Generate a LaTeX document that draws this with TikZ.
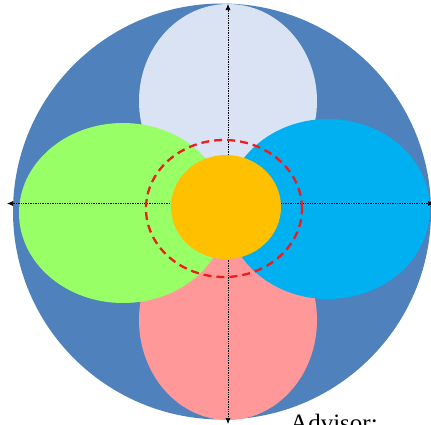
\documentclass[tikz,border=0pt]{standalone}
\usepackage{fontspec}
\setmainfont{Liberation Serif}
\usetikzlibrary{shapes.geometric,arrows.meta}
\definecolor{outerblue}{HTML}{4F81BD}
\definecolor{topblue}{HTML}{DAE3F3}
\definecolor{leafgreen}{HTML}{99FF66}
\definecolor{leafcyan}{HTML}{00B0F0}
\definecolor{leafpink}{HTML}{FF9999}
\definecolor{coreorange}{HTML}{FFC000}
\definecolor{dashred}{HTML}{EE1C1C}
\tikzset{
  blob/.style={ellipse, draw=none, inner sep=0pt},
  axis/.style={densely dotted, line width=0.7pt, black, {Latex[length=6pt,width=5pt]}-{Latex[length=6pt,width=5pt]}},
  ring/.style={ellipse, draw=dashred, dash pattern=on 8pt off 5pt, line width=2.3pt, inner sep=0pt, fill=none}
}
\begin{document}
\begin{tikzpicture}[x=1pt,y=-1pt]
\useasboundingbox (0,0) rectangle (431,424);
\node[blob, fill=outerblue, minimum width=418pt, minimum height=416pt] (outer) at (222,211.5) {};
\node[blob, fill=topblue, minimum width=178pt, minimum height=194pt] (top) at (228,101) {};
\node[blob, fill=leafpink, minimum width=178pt, minimum height=200pt] (bottom) at (228,320) {};
\node[blob, fill=leafgreen, minimum width=208pt, minimum height=180pt] (left) at (123,213) {};
\node[blob, fill=leafcyan, minimum width=204pt, minimum height=180pt] (right) at (328,209) {};
\coordinate (ntop) at (228,4);
\coordinate (nbot) at (228,424);
\coordinate (wl) at (7,203.5);
\coordinate (wr) at (434,203.5);
\draw[axis] (ntop) -- (nbot);
\draw[axis] (wl) -- (wr);
\node[blob, fill=coreorange, minimum width=110pt, minimum height=104pt] (core) at (226,207) {};
\node[ring, minimum width=156pt, minimum height=137pt] (ring) at (224,208.5) {};
\node[anchor=base west, inner sep=0pt, font=\fontsize{25}{30}\selectfont] (advisor) at (290,431) {Advisor:};
\end{tikzpicture}
\end{document}
